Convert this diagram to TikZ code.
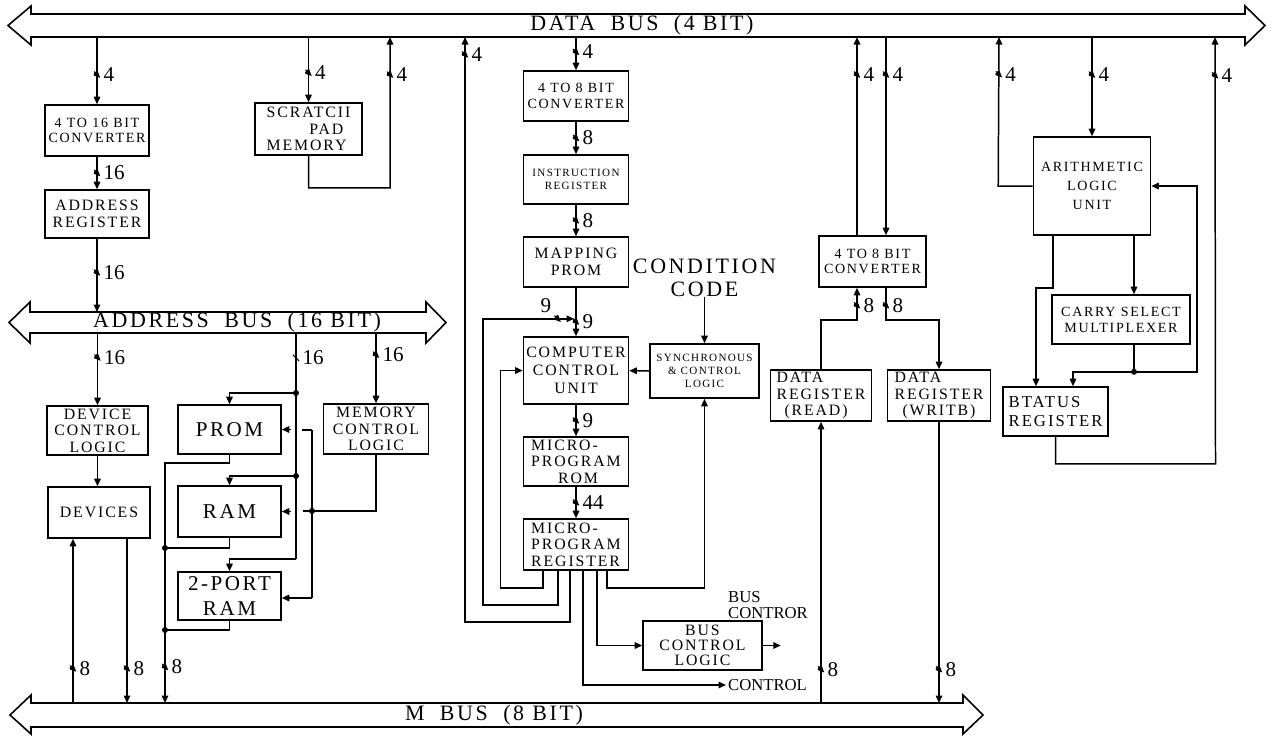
\documentclass[tikz,border=0pt]{standalone}
\usepackage{fontspec}
\setmainfont{Liberation Serif}
\newfontfamily\bxfont{Liberation Serif}[LetterSpace=12]
\newfontfamily\busfont{Liberation Serif}[LetterSpace=12]
\usetikzlibrary{arrows.meta,calc}
\tikzset{
  blk/.style={draw, line width=0.9pt, inner sep=1pt, align=center,
              font=\bxfont\fontsize{9}{9.4}\selectfont},
  blkm/.style={blk, font=\bxfont\fontsize{9}{10.4}\selectfont},
  blks/.style={blk, font=\bxfont\fontsize{8}{9}\selectfont},
  blkxs/.style={blk, font=\bxfont\fontsize{6.3}{7.4}\selectfont},
  blkl/.style={blk, font=\bxfont\fontsize{12}{14.5}\selectfont},
  bus/.style={line width=0.9pt, line join=miter},
  buslbl/.style={font=\busfont\fontsize{12.5}{13}\selectfont, inner sep=0pt},
  txt/.style={font=\fontsize{9.5}{8.6}\selectfont, inner sep=1pt},
  cn/.style={line width=0.85pt},
  arr/.style={cn, -{Triangle[length=1.5mm,width=1.3mm]}},
  jn/.style={circle, fill, inner sep=0pt, minimum size=1.2mm},
  tk/.style={inner sep=0pt, minimum size=1.3mm,
             path picture={\draw[line width=0.55pt] (path picture bounding box.north west)
                           -- (path picture bounding box.south east);}},
  wlbl/.style={font=\fontsize{12}{12}\selectfont, inner sep=1pt},
  wd/.style={tk, label distance=1.5pt, label={[wlbl]right:#1}},
  wdul/.style={tk, label={[wlbl]above left:#1}},
}
\begin{document}
\begin{tikzpicture}[x=0.02cm, y=-0.02cm]
    \useasboundingbox (0,0) rectangle (1274,735);
    % buses
    \draw[bus] (31,14) -- (1245,14) -- (1245,6) -- (1265,25.5) -- (1245,45) -- (1245,37)
        -- (31,37) -- (31,45) -- (8,25.5) -- (31,6) -- cycle;
    \draw[bus] (30,312) -- (426,312) -- (426,302) -- (446,322.5) -- (426,343) -- (426,333)
        -- (30,333) -- (30,343) -- (9,322.5) -- (30,302) -- cycle;
    \draw[bus] (31,703) -- (963,703) -- (963,695) -- (983,715) -- (963,734) -- (963,727)
        -- (31,727) -- (31,734) -- (10,715) -- (31,695) -- cycle;
    \node[buslbl] (dbl) at (642,25.5) {DATA\hspace{0.7em}BUS\hspace{0.7em}(4 BIT)};
    \node[buslbl] (abl) at (237,322.5) {ADDRESS\hspace{0.7em}BUS\hspace{0.7em}(16 BIT)};
    \node[buslbl] (mbl) at (494,715) {M\hspace{0.7em}BUS\hspace{0.7em}(8 BIT)};
    \coordinate (dbB) at (0,37);
    \coordinate (abT) at (0,312);
    \coordinate (abB) at (0,333);
    \coordinate (mbT) at (0,703);
    % left column
    \node[blks, minimum width=2.08cm, minimum height=1.02cm] (cv16) at (97,130.5) {4 TO 16 BIT\\CONVERTER};
    \node[blk, minimum width=2.08cm, minimum height=0.96cm] (areg) at (97,214) {ADDRESS\\REGISTER};
    \node[blk, minimum width=2.14cm, minimum height=1.04cm, align=left] (spad) at (308.5,129) {SCRATCII\\\hspace*{2.7em}PAD\\MEMORY};
    % control column
    \node[blks, minimum width=2.10cm, minimum height=1.00cm] (cv8a) at (576,96) {4 TO 8 BIT\\CONVERTER};
    \node[blkxs, minimum width=2.10cm, minimum height=0.98cm] (ireg) at (576,179.5) {INSTRUCTION\\REGISTER};
    \node[blk, minimum width=2.10cm, minimum height=1.00cm] (mprom) at (576,262) {MAPPING\\PROM};
    \node[blkm, minimum width=2.10cm, minimum height=1.34cm] (ccu) at (576,370.5) {COMPUTER\\CONTROL\\UNIT};
    \node[blk, minimum width=2.10cm, minimum height=0.98cm, align=left] (urom) at (576,461.5) {MICRO-\\PROGRAM\\\hspace*{1.7em}ROM};
    \node[blk, minimum width=2.10cm, minimum height=1.02cm, align=left] (ureg) at (576,544.5) {MICRO-\\PROGRAM\\REGISTER};
    \node[blkxs, minimum width=2.18cm, minimum height=1.08cm] (sync) at (704.5,371) {SYNCHRONOUS\\\& CONTROL\\LOGIC};
    \node[blk, minimum width=2.38cm, minimum height=0.98cm, font=\bxfont\fontsize{9}{8.4}\selectfont] (bcl) at (702.5,645.5) {BUS\\CONTROL\\LOGIC};
    \node[buslbl, align=center] (cc) at (704.5,278) {CONDITION\\CODE};
    \node[txt, align=left, anchor=west] (bct) at (726,605) {BUS\\CONTROR};
    \node[txt, anchor=west] (ctl) at (726,685) {CONTROL};
    % data registers
    \node[blks, minimum width=2.14cm, minimum height=1.02cm] (cv8b) at (872.5,261.5) {4 TO 8 BIT\\CONVERTER};
    \node[blk, minimum width=2.02cm, minimum height=1.02cm, align=left] (drr) at (821,395.5) {DATA\\REGISTER\\\hspace*{0.5em}(READ)};
    \node[blk, minimum width=2.06cm, minimum height=1.02cm, align=left] (drw) at (939,395.5) {DATA\\REGISTER\\\hspace*{0.5em}(WRITB)};
    % alu
    \node[blks, minimum width=2.34cm, minimum height=1.96cm, font=\bxfont\fontsize{8}{11}\selectfont] (alu) at (1092,186) {ARITHMETIC\\LOGIC\\UNIT};
    \node[blks, minimum width=2.76cm, minimum height=0.98cm] (csm) at (1121,319.5) {CARRY SELECT\\MULTIPLEXER};
    \node[blk, minimum width=2.10cm, minimum height=0.98cm, align=left, font=\bxfont\fontsize{9.5}{10.5}\selectfont] (streg) at (1055.5,411.5) {BTATUS\\REGISTER};
    % memory side
    \node[blk, minimum width=2.02cm, minimum height=0.98cm] (dcl) at (97.5,430.5) {DEVICE\\CONTROL\\LOGIC};
    \node[blk, minimum width=2.04cm, minimum height=1.02cm] (dev) at (99,512.5) {DEVICES};
    \node[blkl, minimum width=2.06cm, minimum height=0.98cm] (prom) at (229.5,429.5) {PROM};
    \node[blkl, minimum width=2.06cm, minimum height=1.02cm] (ram) at (229.5,511.5) {RAM};
    \node[blkl, minimum width=2.06cm, minimum height=0.96cm] (ram2) at (229.5,596) {2-PORT\\RAM};
    \node[blk, minimum width=2.10cm, minimum height=1.00cm] (mcl) at (376,429) {MEMORY\\CONTROL\\LOGIC};
    % data bus taps
    \draw[arr] (cv16.north |- dbB) -- node[wd=4,pos=.56] (w1) {} (cv16.north);
    \draw[arr] (cv16) -- node[wd=16] (w2) {} (areg);
    \draw[arr] (areg.south) -- node[wd=16,pos=.46] (w3) {} (areg.south |- abT);
    \draw[arr] (spad.north |- dbB) -- node[wd=4,pos=.55] (w4) {} (spad.north);
    \draw[arr] (spad.south) -- ++(0,32) -- ++(81.5,0) -- node[wd=4,pos=.75] (w5) {} (390,0 |- dbB);
    \draw[arr] ($(ureg.south)+(-6,0)$) -- ++(0,51) -- ++(-105,0) -- node[wd=4,pos=.97] (w6) {} (465,0 |- dbB);
    % control flow
    \draw[arr] (cv8a.north |- dbB) -- node[wd=4,pos=.45] (w7) {} (cv8a.north);
    \draw[arr] (cv8a) -- node[wd=8] (w8) {} (ireg);
    \draw[arr] (ireg) -- node[wd=8] (w9) {} (mprom);
    \draw[arr] (mprom) -- node[wd=9,pos=.7] (w10) {} (ccu);
    \draw[arr] ($(ureg.south)+(-18,0)$) -- ++(0,34) -- ++(-75,0) -- ++(0,-286) -- node[wdul=9,pos=.82] (w11) {} ++(91,0);
    \draw[arr] (ccu) -- node[wd=9] (w12) {} (urom);
    \draw[arr] (urom) -- node[wd=44] (w13) {} (ureg);
    \draw[arr] ($(ureg.south)+(-33,0)$) -- ++(0,17) -| ($(ccu.west)+(-22,0)$) -- (ccu.west);
    \draw[arr] (sync) -- (ccu);
    \draw[arr] (cc.south) -- (sync.north);
    \draw[arr] ($(ureg.south)+(31,0)$) -- ++(0,17) -| (sync.south);
    \draw[arr] ($(ureg.south)+(21,0)$) |- (bcl.west);
    \draw[arr] ($(ureg.south)+(7,0)$) |- (ctl.west);
    \draw[arr] (bcl.east) -- ++(18,0) coordinate (bco);
    % data registers
    \coordinate (cvl) at ($(cv8b.north)+(-15.5,0)$);
    \coordinate (cvr) at ($(cv8b.north)+(13.5,0)$);
    \draw[arr] (cvl) -- node[wd=4,pos=.81] (w14) {} (cvl |- dbB);
    \draw[arr] (cvr |- dbB) -- node[wd=4,pos=.19] (w15) {} (cvr);
    \draw[arr] (drr.north) |- ($(cv8b.south)+(-15.5,32)$) -- node[wd=8,pos=.45] (w16) {} ($(cv8b.south)+(-15.5,0)$);
    \draw[arr] ($(cv8b.south)+(13.5,0)$) -- node[wd=8,pos=.55] (w17) {} ++(0,32) -| (drw.north);
    \draw[arr] (drr.south |- mbT) -- node[wd=8,pos=.12] (w18) {} (drr.south);
    \draw[arr] (drw.south) -- node[wd=8,pos=.88] (w19) {} (drw.south |- mbT);
    % alu
    \draw[arr] (alu.north |- dbB) -- node[wd=4,pos=.38] (w20) {} (alu.north);
    \draw[arr] (alu.west) -- ++(-34.5,0) -- node[wd=4,pos=.75] (w21) {} (999,0 |- dbB);
    \draw[arr] ($(alu.south)+(-39,0)$) -- ++(0,52) -| ($(streg.north)+(-19.5,0)$);
    \draw[arr] ($(alu.south)+(42,0)$) -- ($(csm.north)+(13,0)$);
    \draw[arr] ($(csm.south)+(13,0)$) -- ++(0,27) coordinate (jc) -| ($(streg.north)+(17.5,0)$);
    \draw[arr] (jc) -- ++(63,0) |- (alu.east);
    \node[jn] (d1) at (jc) {};
    \draw[arr] (streg.south) -- ++(0,27) -- ++(160,0) -- node[wd=4,pos=.91] (w22) {} (1215,0 |- dbB);
    % address bus taps
    \coordinate (ma) at (296,393);
    \coordinate (mb) at (296,476);
    \coordinate (mc) at (296,559);
    \coordinate (mp) at (312,430);
    \coordinate (mj) at (312,511);
    \coordinate (mq) at (312,598);
    \coordinate (mo) at (165,463);
    \coordinate (mr) at (165,548);
    \coordinate (ms) at (165,630);
    \coordinate (dvu) at ($(dev.south)+(-26,0)$);
    \coordinate (dvd) at ($(dev.south)+(28,0)$);
    \draw[arr] (dcl.north |- abB) -- node[wd=16,pos=.34] (w23) {} (dcl.north);
    \draw[arr] (dcl.south) -- (dcl.south |- dev.north);
    \draw[cn] (ma |- abB) -- node[wd=16,pos=.11] (w24) {} (mc);
    \draw[arr] (ma) -| (prom.north);
    \draw[arr] (mb) -| (ram.north);
    \draw[arr] (mc) -| (ram2.north);
    \draw[arr] (mcl.north |- abB) -- node[wd=16,pos=.31] (w25) {} (mcl.north);
    \draw[cn] (mcl.south) |- (mj);
    \draw[cn] (mp) -- (mq);
    \draw[cn] (mp) -- ++(-10,0);
    \draw[cn] (mj) -- ++(-9,0);
    \draw[arr] ($(prom.east)+(9,0)$) -- (prom.east);
    \draw[arr] ($(ram.east)+(9,0)$) -- (ram.east);
    \draw[arr] (mq) -- (mq -| ram2.east);
    \draw[arr] (prom.south) |- (mo) -- node[wd=8,pos=.85] (w26) {} (mo |- mbT);
    \draw[cn] (ram.south) |- (mr);
    \draw[cn] (ram2.south) |- (ms);
    \draw[arr] (dvu |- mbT) -- node[wd=8,pos=.21] (w27) {} (dvu);
    \draw[arr] (dvd) -- node[wd=8,pos=.79] (w28) {} (dvd |- mbT);
    \node[jn] (d2) at (ma) {};
    \node[jn] (d3) at (mb) {};
    \node[jn] (d4) at (mj) {};
    \node[jn] (d5) at (mr) {};
    \node[jn] (d6) at (ms) {};
\end{tikzpicture}
\end{document}
